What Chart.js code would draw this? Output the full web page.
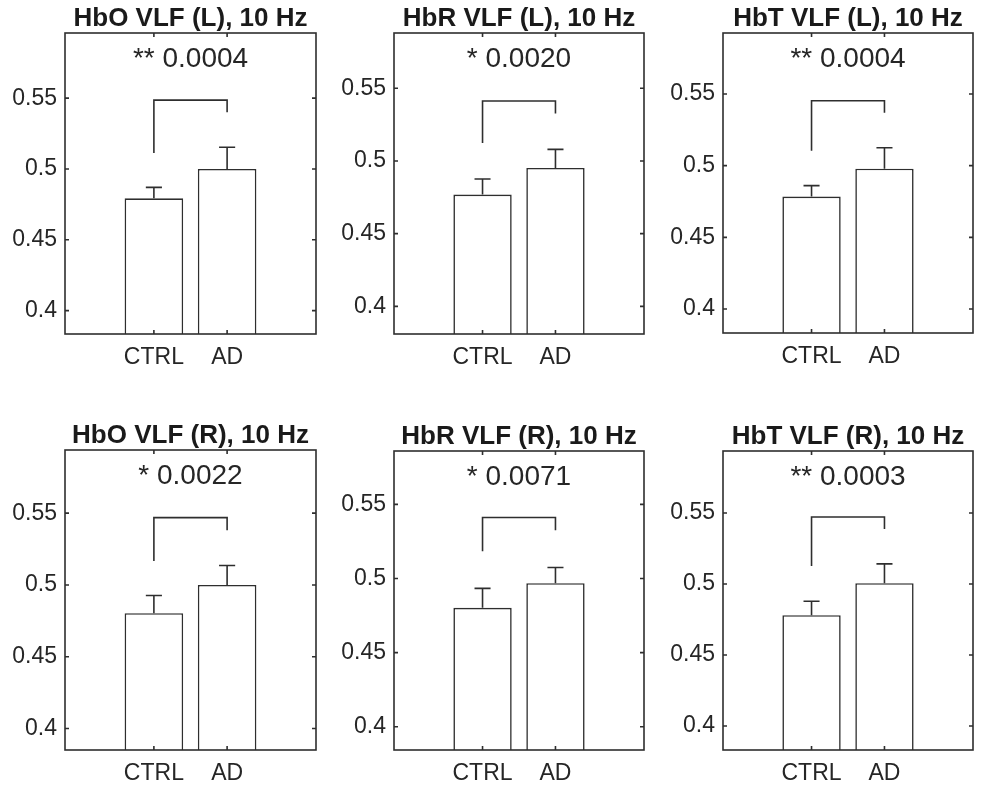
<!DOCTYPE html>
<html lang="en">

<head>
    <meta charset="UTF-8">
    <title>VLF 10 Hz</title>
    <script src="https://cdn.jsdelivr.net/npm/chart.js"></script>
    <style>
        body {
            margin: 0;
            background: #fff;
            width: 989px;
            height: 787px;
            overflow: hidden;
            position: relative;
        }

        canvas {
            position: absolute;
        }
    </style>
</head>

<body>
    <script>
        // data
        const panelTitles = ['HbO VLF (L), 10 Hz', 'HbR VLF (L), 10 Hz', 'HbT VLF (L), 10 Hz',
            'HbO VLF (R), 10 Hz', 'HbR VLF (R), 10 Hz', 'HbT VLF (R), 10 Hz'];
        const categories = ['CTRL', 'AD'];
        const meanCtrl = [0.4793, 0.4769, 0.4784, 0.4803, 0.4802, 0.4780];
        const meanAD = [0.5000, 0.4952, 0.4979, 0.5000, 0.4968, 0.5005];
        const semCtrl = [0.0077, 0.0107, 0.0077, 0.0123, 0.0131, 0.0098];
        const semAD = [0.0153, 0.0128, 0.0146, 0.0135, 0.0106, 0.0136];
        const pLabels = ['** 0.0004', '* 0.0020', '** 0.0004', '* 0.0022', '* 0.0071', '** 0.0003'];
        const bracketY = [0.5486, 0.5412, 0.5453, 0.5469, 0.5411, 0.5471];
        const bracketLegCtrl = [0.5113, 0.5124, 0.5104, 0.5167, 0.5184, 0.5127];
        const bracketLegAD = [0.5401, 0.5326, 0.5369, 0.5381, 0.5326, 0.5387];
        const yMin = [0.3835, 0.3810, 0.3833, 0.3850, 0.3843, 0.3831];
        const yMax = [0.5960, 0.5880, 0.5925, 0.5940, 0.5860, 0.5936];
        const yTicks = [0.4, 0.45, 0.5, 0.55];
        const xRange = [-0.214, 3.214];

        // axes boxes on the page (px)
        const boxes = [
            { l: 65, t: 33, w: 251, h: 301 },
            { l: 394, t: 33, w: 250, h: 301 },
            { l: 723, t: 33, w: 250, h: 300 },
            { l: 65, t: 450, w: 251, h: 300 },
            { l: 394, t: 451, w: 250, h: 299 },
            { l: 723, t: 451, w: 250, h: 299 }
        ];

        const FONT = "'Liberation Sans', Arial, Helvetica, sans-serif";
        const lineColor = '#2e2e2e';
        const textColor = '#262626';

        const decor = {
            id: 'decor',
            afterDatasetsDraw(chart, args, opts) {
                const i = opts.idx;
                const ctx = chart.ctx;
                const xs = chart.scales.x, ys = chart.scales.y;
                const means = [meanCtrl[i], meanAD[i]];
                const sems = [semCtrl[i], semAD[i]];
                ctx.save();
                ctx.strokeStyle = lineColor;
                ctx.lineWidth = 1.6;
                means.forEach((m, k) => {
                    const x = xs.getPixelForValue(k + 1);
                    const c0 = xs.getPixelForValue(k + 1 - 0.11);
                    const c1 = xs.getPixelForValue(k + 1 + 0.11);
                    const y0 = ys.getPixelForValue(m);
                    const y1 = ys.getPixelForValue(m + sems[k]);
                    ctx.beginPath();
                    ctx.moveTo(x, y0);
                    ctx.lineTo(x, y1);
                    ctx.moveTo(c0, y1);
                    ctx.lineTo(c1, y1);
                    ctx.stroke();
                });
                ctx.restore();
            },
            afterDraw(chart, args, opts) {
                const i = opts.idx;
                const ctx = chart.ctx;
                const a = chart.chartArea;
                const xs = chart.scales.x, ys = chart.scales.y;
                ctx.save();
                ctx.strokeStyle = lineColor;
                ctx.lineWidth = 1.6;
                ctx.strokeRect(a.left, a.top, a.right - a.left, a.bottom - a.top);
                ctx.beginPath();
                yTicks.forEach(v => {
                    const y = ys.getPixelForValue(v);
                    ctx.moveTo(a.left, y); ctx.lineTo(a.left + 4, y);
                    ctx.moveTo(a.right, y); ctx.lineTo(a.right - 4, y);
                });
                [1, 2].forEach(v => {
                    const x = xs.getPixelForValue(v);
                    ctx.moveTo(x, a.bottom); ctx.lineTo(x, a.bottom - 4);
                    ctx.moveTo(x, a.top); ctx.lineTo(x, a.top + 4);
                });
                ctx.stroke();
                // p-value label
                ctx.fillStyle = textColor;
                ctx.font = '28px ' + FONT;
                ctx.textAlign = 'center';
                ctx.textBaseline = 'middle';
                ctx.fillText(pLabels[i], xs.getPixelForValue(1.5), a.top + 26);
                ctx.restore();
            }
        };

        function drawPanel(i) {
            const b = boxes[i];
            const cv = document.createElement('canvas');
            cv.width = b.w + 75;
            cv.height = b.h + 90;
            cv.style.left = (b.l - 65) + 'px';
            cv.style.top = (b.t - 40) + 'px';
            document.body.appendChild(cv);

            new Chart(cv.getContext('2d'), {
                type: 'bar',
                data: {
                    datasets: [{
                        type: 'bar',
                        data: [{ x: 1, y: meanCtrl[i] }, { x: 2, y: meanAD[i] }],
                        backgroundColor: '#ffffff',
                        borderColor: lineColor,
                        borderWidth: 1.6,
                        barPercentage: 0.8,
                        categoryPercentage: 1
                    }, {
                        type: 'line',
                        data: [{ x: 1, y: bracketLegCtrl[i] }, { x: 1, y: bracketY[i] },
                        { x: 2, y: bracketY[i] }, { x: 2, y: bracketLegAD[i] }],
                        borderColor: lineColor,
                        borderWidth: 1.6,
                        pointRadius: 0,
                        fill: false,
                        tension: 0
                    }]
                },
                options: {
                    responsive: false,
                    animation: false,
                    devicePixelRatio: 1,
                    layout: { padding: { left: 0, right: 10, top: 0, bottom: 0 } },
                    plugins: {
                        legend: { display: false },
                        tooltip: { enabled: false },
                        title: {
                            display: true,
                            fullSize: false,
                            text: panelTitles[i],
                            color: '#1a1a1a',
                            font: { family: FONT, size: 26, weight: 'bold', lineHeight: '28px' },
                            padding: { top: 12, bottom: 0 }
                        },
                        decor: { idx: i }
                    },
                    scales: {
                        x: {
                            type: 'linear',
                            min: xRange[0],
                            max: xRange[1],
                            offset: false,
                            afterBuildTicks: s => { s.ticks = [1, 2].map(v => ({ value: v })); },
                            afterFit: s => { s.height = 50; },
                            grid: { display: false, drawTicks: false, offset: false },
                            border: { display: false },
                            ticks: {
                                padding: 10,
                                autoSkip: false,
                                maxRotation: 0,
                                color: textColor,
                                font: { family: FONT, size: 23 },
                                callback: v => categories[v - 1]
                            }
                        },
                        y: {
                            type: 'linear',
                            min: yMin[i],
                            max: yMax[i],
                            afterBuildTicks: s => { s.ticks = yTicks.map(v => ({ value: v })); },
                            afterFit: s => { s.width = 65; },
                            grid: { display: false, drawTicks: false },
                            border: { display: false },
                            ticks: {
                                padding: 8,
                                color: textColor,
                                font: { family: FONT, size: 23 },
                                callback: v => String(v)
                            }
                        }
                    }
                },
                plugins: [decor]
            });
        }

        for (let i = 0; i < 6; i++) drawPanel(i);
    </script>
</body>

</html>
